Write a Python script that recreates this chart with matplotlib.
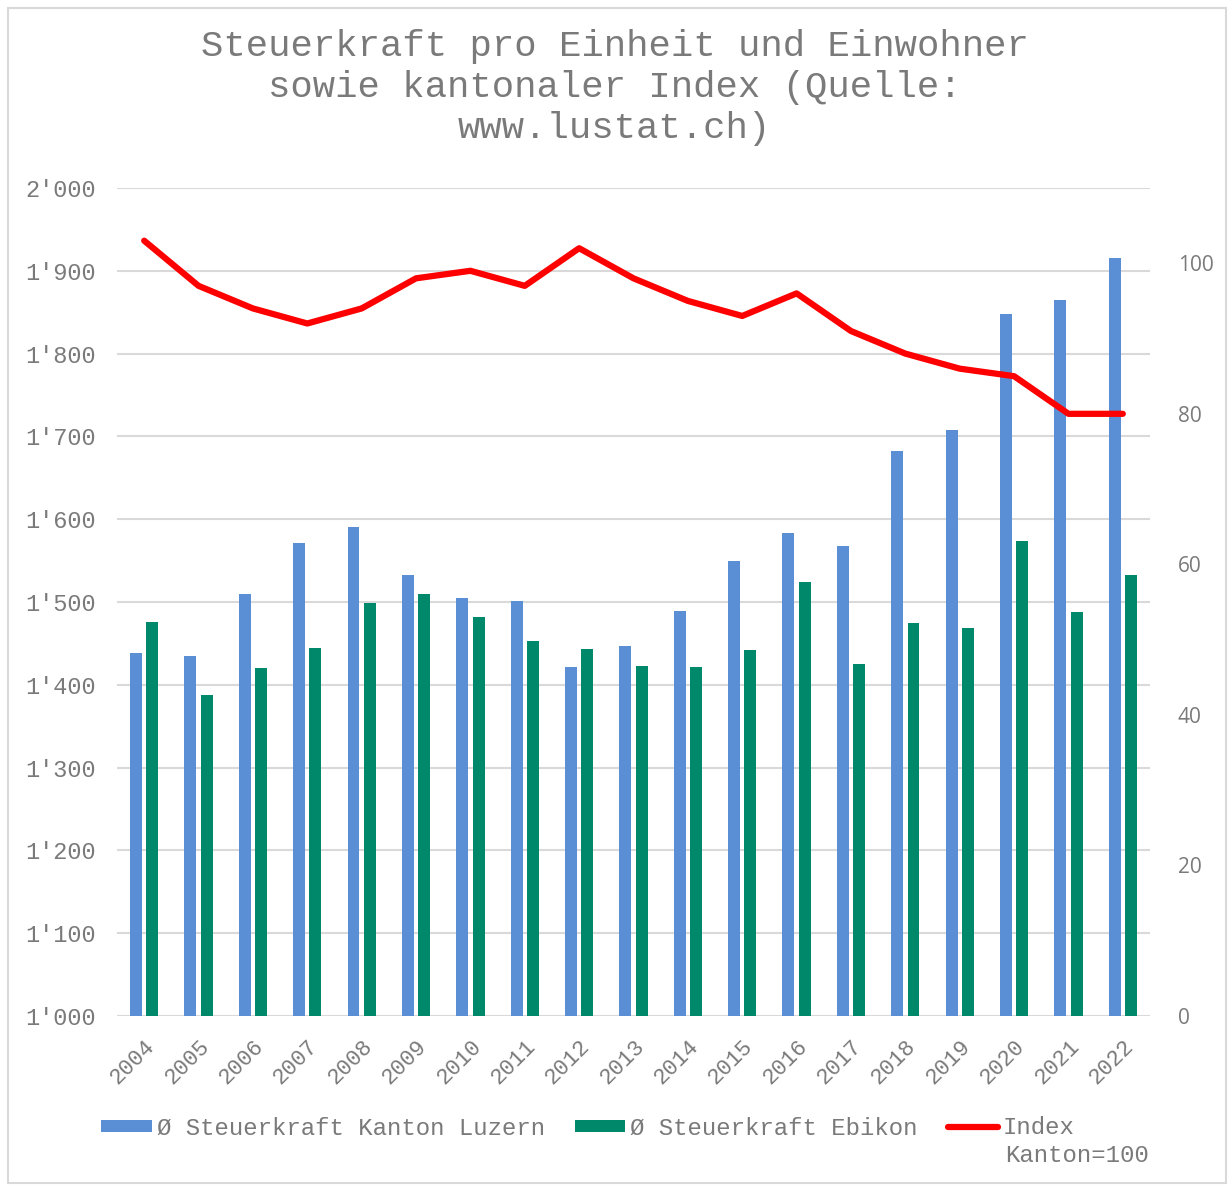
import matplotlib
matplotlib.use("Agg")
import matplotlib.pyplot as plt
import numpy as np
from matplotlib.ticker import FuncFormatter
from matplotlib.patches import Rectangle

years = [str(y) for y in range(2004, 2023)]
luzern = [1438, 1435, 1510, 1571, 1590, 1533, 1505, 1501, 1421, 1447,
          1489, 1550, 1583, 1568, 1682, 1708, 1848, 1865, 1915]
ebikon = [1476, 1388, 1420, 1444, 1499, 1510, 1482, 1453, 1443, 1423,
          1421, 1442, 1524, 1425, 1475, 1469, 1574, 1488, 1533]
index = [103, 97, 94, 92, 94, 98, 99, 97, 102, 98,
         95, 93, 96, 91, 88, 86, 85, 80, 80]

title = "Steuerkraft pro Einheit und Einwohner\nsowie kantonaler Index (Quelle:\nwww.lustat.ch)"
lab_lu = "Ø Steuerkraft Kanton Luzern"
lab_eb = "Ø Steuerkraft Ebikon"
lab_ix = "Index"
lab_ix2 = "Kanton=100"

mono = "Liberation Mono"
gray = "#7a7a7a"
blue = "#5A8FD5"
green = "#00886A"

fig = plt.figure(figsize=(12.29, 11.88), dpi=100)
fig.patches.append(Rectangle((8/1229, 5/1188), 1218/1229, 1175/1188, transform=fig.transFigure,
                             fill=False, edgecolor="#d9d9d9", linewidth=1.5))
ax = fig.add_axes([117/1229, 172/1188, 1033/1229, 828/1188])
x = np.arange(len(years))
w = 0.22
b1 = ax.bar(x - 0.15, np.array(luzern) - 1000, w, bottom=1000, color=blue, label=lab_lu, zorder=2)
b2 = ax.bar(x + 0.15, np.array(ebikon) - 1000, w, bottom=1000, color=green, label=lab_eb, zorder=2)
ax.set_ylim(1000, 2000)
ax.set_xlim(-0.5, len(years) - 0.5)
ax.set_yticks(range(1000, 2001, 100))
ax.yaxis.set_major_formatter(FuncFormatter(lambda v, p: f"{int(v)//1000}'{int(v)%1000:03d}"))
ax.grid(axis="y", color="#d9d9d9", linewidth=1.5, zorder=0)
ax.set_axisbelow(True)
for s in ax.spines.values():
    s.set_visible(False)
ax.tick_params(axis="y", length=0, pad=15, labelsize=17, labelcolor=gray)
ax.tick_params(axis="x", length=0, pad=14, labelsize=16, labelcolor=gray)
ax.set_xticks(x)
ax.set_xticklabels(years, rotation=45, ha="right", rotation_mode="anchor", family=mono)
for t in ax.get_yticklabels():
    t.set_family(mono)

ax2 = ax.twinx()
ln, = ax2.plot(x, index, color="#FF0000", linewidth=4.5, solid_capstyle="round",
               solid_joinstyle="round", label=lab_ix, zorder=3)
ax2.set_ylim(0, 110)
ax2.set_yticks(range(0, 101, 20))
for s in ax2.spines.values():
    s.set_visible(False)
ax2.tick_params(axis="y", length=0, pad=20, labelsize=15, labelcolor=gray)
for t in ax2.get_yticklabels():
    t.set_family("Open Sans")

fig.text(0.5, 1 - 29/1188, title, ha="center", va="top", family=mono, fontsize=26.8,
         color=gray, linespacing=1.22)

leg = fig.legend(handles=[b1, b2, ln], labels=[lab_lu, lab_eb, lab_ix], loc="center",
                 bbox_to_anchor=(588/1229, 1 - 1128/1188), ncol=3, frameon=False,
                 prop={"family": mono, "size": 17.3}, handlelength=2.1, handleheight=0.35,
                 handletextpad=0.2, columnspacing=1.25)
for t in leg.get_texts():
    t.set_color(gray)
fig.text(1005/1229, 1 - 1156/1188, lab_ix2, ha="left", va="center", family=mono,
         fontsize=17.3, color=gray)

fig.savefig("out.png", dpi=100)
